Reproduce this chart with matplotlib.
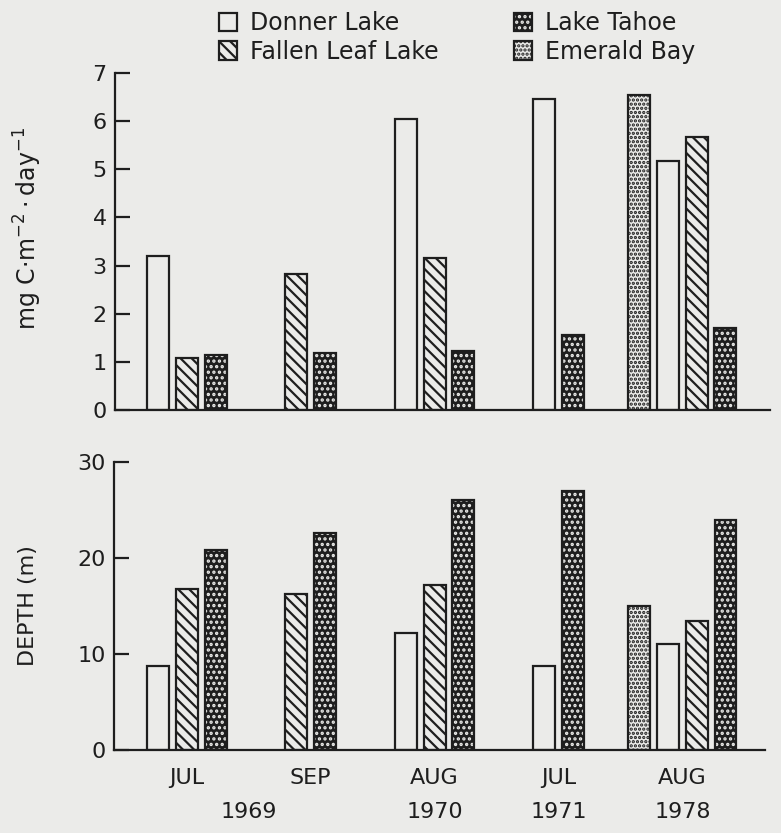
import numpy as np
import matplotlib
matplotlib.use("Agg")
import matplotlib.pyplot as plt
import matplotlib.transforms as mtransforms

# data
months = ["JUL", "SEP", "AUG", "JUL", "AUG"]
years = ["1969", "1969", "1970", "1971", "1978"]
lakes = ["Emerald Bay", "Donner Lake", "Fallen Leaf Lake", "Lake Tahoe"]

emerald_prod = [np.nan, np.nan, np.nan, np.nan, 6.55]
donner_prod = [3.2, np.nan, 6.05, 6.45, 5.17]
fallen_prod = [1.07, 2.82, 3.15, np.nan, 5.68]
tahoe_prod = [1.14, 1.18, 1.22, 1.56, 1.70]

emerald_depth = [np.nan, np.nan, np.nan, np.nan, 15.0]
donner_depth = [8.8, np.nan, 12.2, 8.8, 11.0]
fallen_depth = [16.8, 16.2, 17.2, np.nan, 13.4]
tahoe_depth = [20.8, 22.6, 26.0, 27.0, 24.0]

paper = "#ebebe9"
ink = "#1e1e1e"
plt.rcParams["font.family"] = "DejaVu Sans"
plt.rcParams["hatch.linewidth"] = 1.6

# fill style per lake: facecolor, hatch, hatch colour
styles = {
    "Donner Lake": (paper, None, ink),
    "Fallen Leaf Lake": (paper, "\\\\\\", ink),
    "Lake Tahoe": (ink, "...", paper),
    "Emerald Bay": (paper, "....", ink),
}

fig = plt.figure(figsize=(7.81, 8.33), dpi=100, facecolor=paper)
ax1 = fig.add_axes([115 / 781, 1 - 410 / 833, 655 / 781, 337 / 833])
ax2 = fig.add_axes([114 / 781, 1 - 750 / 833, 651 / 781, 288 / 833])

centers = np.arange(len(months)) * 4.3 + 1.0
width = 0.76


def draw_bars(ax, series):
    for g in range(len(months)):
        present = [l for l in lakes if not np.isnan(series[l][g])]
        offs = np.arange(len(present)) - (len(present) - 1) / 2
        for lake, o in zip(present, offs):
            fc, hatch, hc = styles[lake]
            ax.bar(centers[g] + o, series[lake][g], width, color=fc,
                   hatch=hatch, edgecolor=hc, linewidth=0)
            ax.bar(centers[g] + o, series[lake][g], width, facecolor="none",
                   edgecolor=ink, linewidth=1.6)


prod = {"Emerald Bay": emerald_prod, "Donner Lake": donner_prod,
        "Fallen Leaf Lake": fallen_prod, "Lake Tahoe": tahoe_prod}
depth = {"Emerald Bay": emerald_depth, "Donner Lake": donner_depth,
         "Fallen Leaf Lake": fallen_depth, "Lake Tahoe": tahoe_depth}
draw_bars(ax1, prod)
draw_bars(ax2, depth)

for ax in (ax1, ax2):
    ax.set_facecolor(paper)
    for s in ("top", "right"):
        ax.spines[s].set_visible(False)
    for s in ("left", "bottom"):
        ax.spines[s].set_linewidth(1.6)
        ax.spines[s].set_color(ink)
    ax.tick_params(axis="y", direction="in", length=11, width=1.6,
                   labelsize=16, pad=6, colors=ink)

ax1.set_xlim(-1.5, 21.25)
ax1.set_ylim(0, 7)
ax1.set_yticks(range(0, 8))
ax1.set_xticks([])
ax1.set_ylabel(r"mg C$\cdot$m$^{-2}\cdot$day$^{-1}$", fontsize=17, color=ink)
ax1.yaxis.set_label_coords(-0.109, 0.54)

ax2.set_xlim(-1.53, 21.07)
ax2.set_ylim(0, 30)
ax2.set_yticks([0, 10, 20, 30])
ax2.set_xticks(centers)
ax2.set_xticklabels(months, fontsize=16, color=ink)
ax2.tick_params(axis="x", length=0, pad=13)
ax2.set_ylabel("DEPTH (m)", fontsize=16, color=ink)
ax2.yaxis.set_label_coords(-0.116, 0.5)

trans = mtransforms.blended_transform_factory(ax2.transData, ax2.transAxes)
for yr in dict.fromkeys(years):
    xs = [c for c, y in zip(centers, years) if y == yr]
    ax2.text(np.mean(xs), -0.215, yr, transform=trans, ha="center",
             va="center", fontsize=16, color=ink)

handles = []
for lake in ["Donner Lake", "Fallen Leaf Lake", "Lake Tahoe", "Emerald Bay"]:
    fc, hatch, hc = styles[lake]
    h1 = plt.Rectangle((0, 0), 1, 1, facecolor=fc, hatch=hatch, edgecolor=hc, linewidth=0)
    h2 = plt.Rectangle((0, 0), 1, 1, facecolor="none", edgecolor=ink, linewidth=1.6)
    handles.append((h1, h2))
fig.legend(handles, ["Donner Lake", "Fallen Leaf Lake", "Lake Tahoe", "Emerald Bay"],
           ncol=2, loc="upper left", bbox_to_anchor=(198 / 781, 1 + 10 / 833),
           frameon=False, fontsize=17, handlelength=0.75, handleheight=0.85,
           handletextpad=0.55, columnspacing=3.2, labelspacing=0.2,
           labelcolor=ink)

fig.savefig("out.png", dpi=100, facecolor=paper)
